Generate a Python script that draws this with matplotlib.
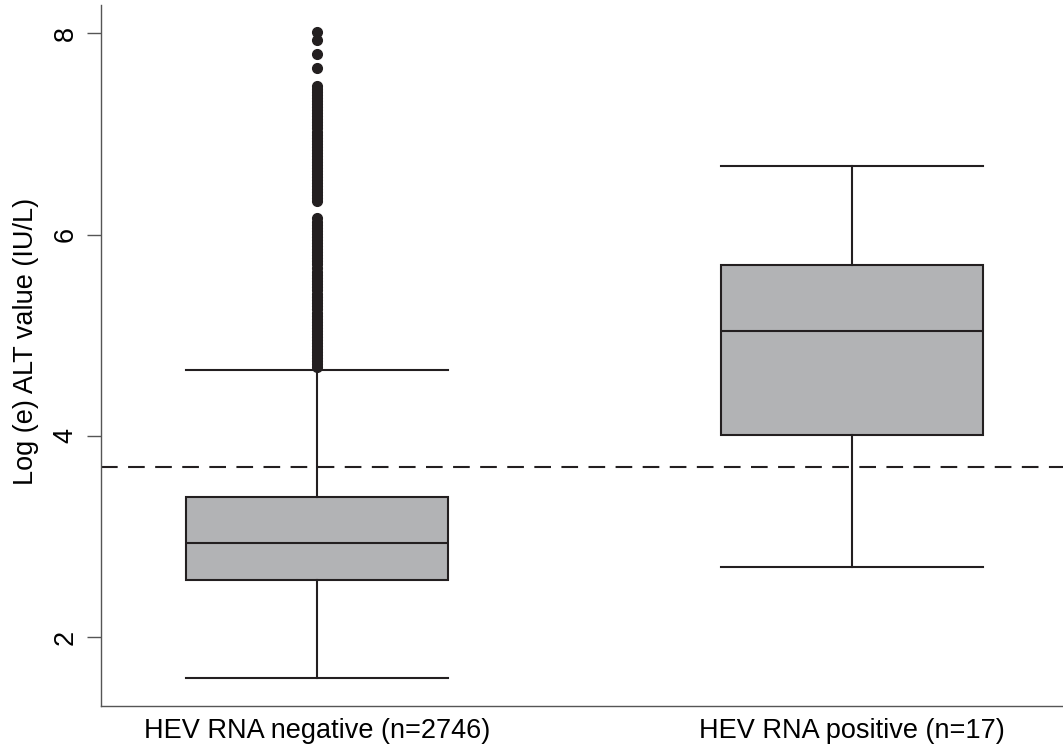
import matplotlib.pyplot as plt

plt.rcParams['font.family'] = ['Liberation Sans', 'DejaVu Sans']

# box statistics (log(e) ALT, IU/L)
groups = ['HEV RNA negative (n=2746)', 'HEV RNA positive (n=17)']
q1 = [2.57, 4.01]
median = [2.93, 5.04]
q3 = [3.39, 5.70]
whisker_low = [1.59, 2.70]
whisker_high = [4.65, 6.68]
cutoff = 3.69

# outliers above the upper whisker of the negative group
fliers_neg = [4.68, 4.71, 4.74, 4.77, 4.80, 4.83, 4.86, 4.89, 4.92, 4.95,
              4.98, 5.01, 5.04, 5.07, 5.10, 5.13, 5.16, 5.19, 5.22, 5.26,
              5.29, 5.32, 5.35, 5.38, 5.41, 5.45, 5.48, 5.51, 5.54, 5.57,
              5.60, 5.63, 5.67, 5.71, 5.74, 5.77, 5.80, 5.83, 5.86, 5.89,
              5.92, 5.95, 5.98, 6.01, 6.04, 6.07, 6.10, 6.13, 6.17, 6.33,
              6.36, 6.39, 6.42, 6.45, 6.48, 6.51, 6.54, 6.57, 6.60, 6.63,
              6.66, 6.69, 6.72, 6.75, 6.78, 6.81, 6.84, 6.87, 6.90, 6.93,
              6.96, 6.99, 7.02, 7.06, 7.09, 7.12, 7.15, 7.18, 7.21, 7.24,
              7.27, 7.30, 7.33, 7.36, 7.39, 7.42, 7.45, 7.48, 7.66, 7.80,
              7.93, 8.01]
fliers = [fliers_neg, []]

stats = []
for i in range(len(groups)):
    stats.append({'med': median[i], 'q1': q1[i], 'q3': q3[i],
                  'whislo': whisker_low[i], 'whishi': whisker_high[i],
                  'fliers': fliers[i], 'label': groups[i]})

fig = plt.figure(figsize=(10.63, 7.51), dpi=100)
ax = fig.add_axes([0.095, 0.06, 0.905, 0.933])

dark = '#231f20'
ax.bxp(stats, positions=[1, 2], widths=0.49, patch_artist=True,
       boxprops=dict(facecolor='#b2b3b5', edgecolor=dark, linewidth=1.5),
       medianprops=dict(color=dark, linewidth=1.5),
       whiskerprops=dict(color=dark, linewidth=1.5),
       capprops=dict(color=dark, linewidth=1.5),
       capwidths=0.49,
       flierprops=dict(marker='o', markersize=7, markerfacecolor=dark,
                       markeredgecolor=dark))

ax.axhline(cutoff, color=dark, linewidth=1.5, dashes=(8, 5))

ax.set_xlim(0.596, 2.394)
ax.set_ylim(1.315, 8.28)
ax.set_yticks([2, 4, 6, 8])
ax.set_yticklabels(['2', '4', '6', '8'], rotation=90, va='center', fontsize=19.5)
ax.tick_params(axis='y', length=10, width=1, color='#555555', pad=6)
ax.tick_params(axis='x', length=0, labelsize=19.5, pad=9)
ax.set_ylabel('Log (e) ALT value (IU/L)', fontsize=19.5, labelpad=10)
ax.yaxis.label.set_y(0.52)

for side in ['top', 'right']:
    ax.spines[side].set_visible(False)
for side in ['left', 'bottom']:
    ax.spines[side].set_color('#555555')
    ax.spines[side].set_linewidth(1)

fig.savefig('out.png', dpi=100)
